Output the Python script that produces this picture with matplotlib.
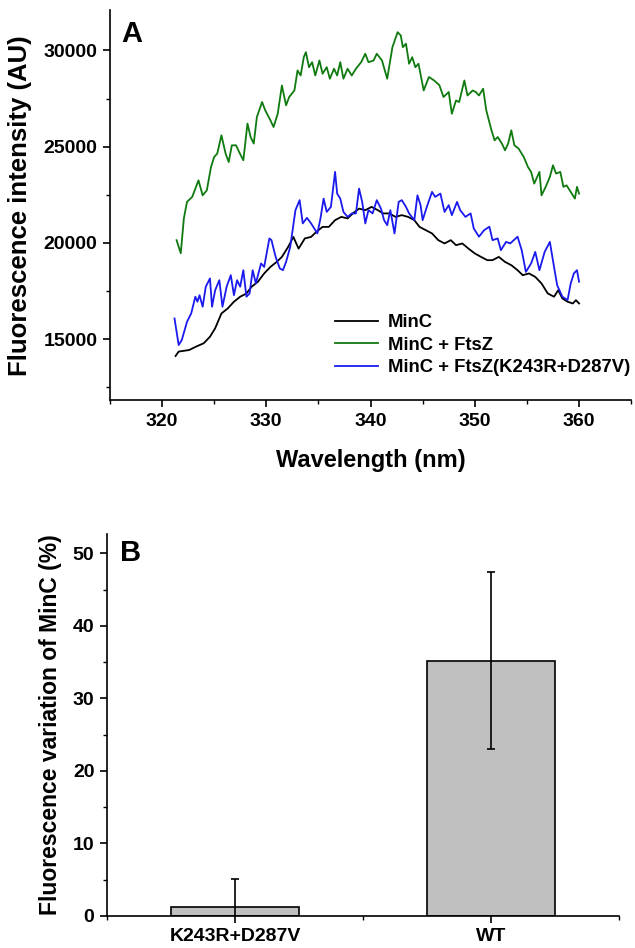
import matplotlib
matplotlib.use("Agg")
import matplotlib.pyplot as plt
from matplotlib.ticker import MultipleLocator

plt.rcParams["font.family"] = ["Liberation Sans", "DejaVu Sans"]
plt.rcParams["font.weight"] = "bold"

# panel A: emission spectra (wavelength nm, intensity AU)
minc_wl = [321.3, 321.6, 322.6, 323.4, 324.0, 324.6, 325.1, 325.7, 326.3, 326.9,
           327.5, 328.1, 328.6, 329.2, 329.8, 330.4, 331.0, 331.5, 332.1, 332.6,
           333.1, 333.7, 334.3, 334.8, 335.4, 336.0, 336.6, 337.2, 337.8, 338.3,
           338.9, 339.5, 340.1, 340.7, 341.2, 341.8, 342.4, 343.0, 343.6, 344.2,
           344.7, 345.3, 345.9, 346.5, 347.1, 347.7, 348.2, 348.8, 349.4, 350.0,
           350.6, 351.2, 351.7, 352.3, 352.9, 353.5, 354.1, 354.6, 355.2, 355.8,
           356.4, 357.0, 357.6, 358.0, 358.4, 358.9, 359.4, 359.7, 360.0]
minc_val = [14120, 14350, 14430, 14640, 14780, 15120, 15560, 16330, 16590, 16940,
            17200, 17370, 17720, 17980, 18410, 18750, 19010, 19270, 19790, 20310,
            19700, 20230, 20310, 20570, 20830, 20830, 21180, 21350, 21270, 21530,
            21780, 21700, 21870, 21700, 21530, 21530, 21350, 21440, 21350, 21180,
            20830, 20660, 20490, 20140, 19970, 20140, 19880, 19970, 19700, 19450,
            19270, 19100, 19100, 19270, 19010, 18840, 18580, 18320, 18410, 18230,
            17890, 17370, 17200, 17540, 17110, 16940, 16850, 17020, 16850]

ftsz_wl = [321.4, 321.8, 322.1, 322.4, 322.9, 323.5, 323.9, 324.3, 324.7, 325.0,
           325.3, 325.7, 326.1, 326.4, 326.7, 327.1, 327.4, 327.8, 328.2, 328.5,
           328.8, 329.1, 329.6, 329.9, 330.4, 330.7, 331.1, 331.5, 331.9, 332.2,
           332.7, 333.0, 333.3, 333.6, 333.8, 334.1, 334.4, 334.7, 335.1, 335.4,
           335.8, 336.1, 336.5, 336.8, 337.1, 337.4, 337.8, 338.2, 338.6, 339.1,
           339.5, 339.8, 340.3, 340.6, 341.1, 341.6, 342.1, 342.6, 342.9, 343.1,
           343.4, 343.7, 344.0, 344.3, 344.6, 345.1, 345.6, 346.1, 346.6, 347.0,
           347.5, 347.8, 348.2, 348.5, 349.0, 349.3, 349.8, 350.1, 350.4, 350.8,
           351.1, 351.6, 351.9, 352.2, 352.6, 352.9, 353.2, 353.5, 353.8, 354.2,
           354.7, 355.1, 355.4, 355.7, 356.2, 356.4, 356.8, 357.2, 357.5, 357.8,
           358.2, 358.5, 358.8, 359.2, 359.6, 359.8, 360.0]
ftsz_val = [20140, 19460, 21280, 22130, 22390, 23250, 22470, 22730, 23940, 24460,
            24640, 25590, 24640, 24200, 25070, 25070, 24720, 24290, 26200, 25500,
            25160, 26540, 27320, 26890, 26370, 26020, 26710, 28180, 27150, 27580,
            27920, 28960, 28700, 29650, 29910, 29130, 29390, 28700, 29480, 28790,
            29130, 28530, 29050, 28700, 29390, 28530, 29050, 28700, 29050, 29390,
            29830, 29390, 29480, 29830, 29480, 28530, 30170, 30950, 30780, 30170,
            30350, 29310, 29650, 29130, 29310, 27920, 28620, 28440, 28200, 27580,
            27840, 26710, 27400, 27320, 28440, 27660, 27920, 27840, 27660, 28010,
            26890, 25850, 25330, 25500, 25160, 24810, 25160, 25850, 25070, 24900,
            24460, 23940, 23690, 23080, 23690, 22470, 22910, 23430, 24030, 23600,
            23690, 22910, 22990, 22650, 22300, 22910, 22560]

mut_wl = [321.2, 321.6, 321.9, 322.4, 322.8, 323.2, 323.4, 323.6, 323.9, 324.2,
          324.6, 324.8, 325.1, 325.5, 325.8, 326.2, 326.6, 326.9, 327.2, 327.5,
          327.8, 328.1, 328.4, 328.7, 329.0, 329.5, 329.8, 330.3, 330.5, 330.9,
          331.3, 331.6, 331.9, 332.3, 332.8, 333.2, 333.5, 333.9, 334.3, 334.6,
          334.9, 335.2, 335.5, 335.8, 336.2, 336.6, 336.8, 337.1, 337.4, 337.8,
          338.2, 338.6, 338.9, 339.2, 339.5, 339.8, 340.2, 340.6, 341.0, 341.3,
          341.6, 341.9, 342.3, 342.7, 343.0, 343.4, 343.7, 344.2, 344.5, 344.8,
          345.0, 345.4, 345.9, 346.2, 346.7, 347.1, 347.5, 347.8, 348.3, 348.6,
          349.1, 349.6, 349.9, 350.4, 350.9, 351.4, 351.7, 352.2, 352.5, 353.0,
          353.4, 354.1, 354.5, 354.9, 355.4, 355.8, 356.2, 356.7, 357.2, 357.6,
          357.9, 358.4, 358.9, 359.2, 359.5, 359.8, 360.0]
mut_val = [16070, 14690, 14950, 15900, 16330, 17200, 16940, 17280, 16680, 17720,
           18150, 16680, 17540, 18060, 16680, 17720, 18320, 17280, 18060, 17720,
           18580, 17200, 17370, 18580, 17890, 18930, 18750, 20230, 20140, 19270,
           18670, 18580, 19010, 19790, 21700, 22220, 21010, 21300, 21010, 20750,
           20490, 21270, 22300, 21610, 21870, 23690, 22560, 22300, 21610, 21350,
           21530, 21530, 22820, 22130, 21010, 21700, 21530, 22220, 21780, 21180,
           20920, 21700, 20490, 22130, 22220, 21870, 21530, 21180, 22470, 21960,
           21180, 21870, 22650, 22390, 22560, 21610, 21960, 21440, 22130, 21700,
           21350, 21530, 20750, 20320, 20660, 20840, 20140, 20230, 19620, 20050,
           19970, 20320, 19620, 18490, 18930, 19530, 18580, 19530, 20050, 18750,
           17800, 17200, 17030, 17890, 18410, 18580, 17980]

# panel B: bar chart
groups = ["K243R+D287V", "WT"]
variation = [1.3, 35.2]
variation_err = [3.8, 12.2]

fig = plt.figure(figsize=(6.35, 9.48), dpi=100)

# ---- panel A ----
ax1 = fig.add_axes([0.173, 0.578, 0.821, 0.411])
ax1.plot(minc_wl, minc_val, color="black", lw=1.3, label="MinC")
ax1.plot(ftsz_wl, ftsz_val, color="#0f7a0f", lw=1.3, label="MinC + FtsZ")
ax1.plot(mut_wl, mut_val, color="#1a1aee", lw=1.3, label="MinC + FtsZ(K243R+D287V)")
ax1.set_xlim(315, 365)
ax1.set_ylim(11830, 32080)
ax1.xaxis.set_major_locator(MultipleLocator(10))
ax1.xaxis.set_minor_locator(MultipleLocator(5))
ax1.yaxis.set_major_locator(MultipleLocator(5000))
ax1.yaxis.set_minor_locator(MultipleLocator(2500))
ax1.set_xlabel("Wavelength (nm)", fontsize=17, fontweight="bold", labelpad=14)
ax1.set_ylabel("Fluorescence intensity (AU)", fontsize=18.5, fontweight="bold", labelpad=8)
ax1.text(0.022, 0.94, "A", transform=ax1.transAxes, fontsize=21, fontweight="bold",
         va="center", ha="left")
ax1.legend(loc="upper left", bbox_to_anchor=(0.432, 0.22), frameon=False,
           fontsize=13.3, handlelength=2.3, handletextpad=0.55, labelspacing=0.3,
           borderaxespad=0, borderpad=0)

# ---- panel B ----
ax2 = fig.add_axes([0.1685, 0.0338, 0.806, 0.403])
xpos = [1, 2]
ax2.bar(xpos, variation, width=0.5, color="#c0c0c0", edgecolor="black", linewidth=1.2)
ax2.errorbar(xpos, variation, yerr=variation_err, fmt="none", ecolor="black",
             elinewidth=1.2, capsize=3, capthick=1.2)
ax2.set_xlim(0.5, 2.5)
ax2.set_ylim(0, 52.7)
ax2.set_xticks(xpos)
ax2.set_xticklabels(groups)
ax2.xaxis.set_minor_locator(MultipleLocator(0.5))
ax2.yaxis.set_major_locator(MultipleLocator(10))
ax2.yaxis.set_minor_locator(MultipleLocator(5))
ax2.set_ylabel("Fluorescence variation of MinC (%)", fontsize=16.5, fontweight="bold",
               labelpad=8)
ax2.text(0.025, 0.95, "B", transform=ax2.transAxes, fontsize=21, fontweight="bold",
         va="center", ha="left")

for ax in (ax1, ax2):
    ax.spines["top"].set_visible(False)
    ax.spines["right"].set_visible(False)
    ax.spines["left"].set_linewidth(1.2)
    ax.spines["bottom"].set_linewidth(1.2)
    ax.tick_params(which="major", direction="out", length=5, width=1.2,
                   labelsize=14, pad=4)
    ax.tick_params(which="minor", direction="out", length=3, width=1.0)
    for lab in ax.get_xticklabels() + ax.get_yticklabels():
        lab.set_fontweight("bold")

fig.savefig("out.png", dpi=100)
